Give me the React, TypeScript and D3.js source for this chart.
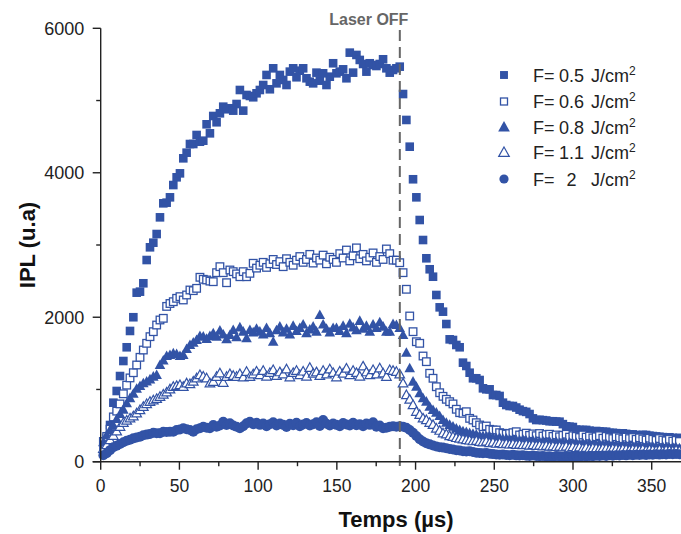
import React from 'react';
import * as d3 from 'd3';

// Measurement sampling (µs)
const timeStart = 1.7;
const timeStep = 2.115;

// IPL (u.a) for each fluence
const ipl05 = [
  220, 330, 508, 817, 979, 1186, 1394, 1584, 1810, 2000,
  2340, 2354, 2470, 2792, 2968, 3032, 3152, 3383, 3577, 3586,
  3660, 3830, 3937, 3992, 4200, 4278, 4398, 4398, 4523, 4430,
  4444, 4671, 4546, 4786, 4699, 4823, 4915, 4879, 4893, 4860,
  4952, 5146, 4860, 5077, 5063, 5045, 5100, 5146, 5215, 5354,
  5156, 5446, 5238, 5354, 5285, 5215, 5400, 5446, 5322, 5413,
  5446, 5308, 5261, 5238, 5386, 5275, 5377, 5215, 5330, 5516,
  5377, 5400, 5432, 5308, 5663, 5386, 5631, 5562, 5506, 5400,
  5516, 5492, 5478, 5506, 5571, 5446, 5386, 5423, 5446, 5469,
  5090, 4731, 4361, 3910, 3660, 3346, 3069, 2816, 2664, 2561,
  2308, 2137, 2077, 1906, 1694, 1685, 1616, 1584, 1371, 1325,
  1232, 1155, 1155, 1131, 1016, 1002, 1002, 923, 923, 910,
  817, 785, 771, 771, 750, 720, 700, 690, 660, 600,
  577, 580, 575, 570, 560, 560, 555, 554, 520, 490,
  485, 480, 445, 440, 439, 440, 430, 420, 425, 420,
  415, 415, 400, 400, 395, 380, 393, 385, 375, 378,
  370, 365, 372, 370, 360, 355, 350, 345, 340, 335,
  338, 330, 325, 330,
];
const ipl06 = [
  280, 350, 450, 620, 700, 800, 940, 1060, 1160, 1232,
  1339, 1445, 1546, 1639, 1731, 1800, 1892, 1962, 1985, 2150,
  2190, 2215, 2262, 2285, 2239, 2308, 2377, 2368, 2400, 2553,
  2525, 2516, 2500, 2492, 2617, 2700, 2617, 2478, 2654, 2631,
  2600, 2561, 2631, 2561, 2608, 2747, 2680, 2720, 2760, 2690,
  2740, 2800, 2730, 2770, 2700, 2810, 2760, 2720, 2790, 2840,
  2760, 2800, 2870, 2750, 2820, 2790, 2860, 2740, 2830, 2800,
  2760, 2880, 2820, 2930, 2780, 2850, 2960, 2810, 2870, 2780,
  2830, 2890, 2760, 2840, 2800, 2945, 2880, 2790, 2790, 2755,
  2617, 2387, 2017, 1800, 1661, 1639, 1463, 1385, 1224, 1155,
  1038, 955, 905, 864, 831, 800, 726, 679, 670, 692,
  600, 577, 540, 508, 485, 494, 448, 439, 439, 402,
  393, 383, 390, 402, 415, 370, 380, 395, 365, 385,
  360, 390, 355, 375, 380, 350, 370, 345, 365, 380,
  340, 360, 350, 335, 370, 340, 355, 330, 345, 360,
  325, 350, 335, 320, 345, 330, 315, 340, 320, 335,
  310, 330, 315, 300, 325, 310, 295, 320, 300, 290,
  310, 285, 295, 280,
];
const ipl08 = [
  270, 370, 440, 500, 590, 660, 720, 808, 880, 940,
  1010, 1048, 1085, 1110, 1140, 1177, 1200, 1339, 1400, 1463,
  1477, 1500, 1491, 1463, 1477, 1560, 1616, 1648, 1685, 1740,
  1731, 1700, 1740, 1777, 1731, 1814, 1760, 1694, 1754, 1823,
  1722, 1860, 1800, 1708, 1823, 1790, 1840, 1800, 1760, 1850,
  1780, 1661, 1820, 1870, 1790, 1840, 1760, 1880, 1810, 1850,
  1900, 1780, 1830, 1870, 1800, 2030, 1900, 1840, 1790, 1850,
  1850, 1810, 1880, 1780, 1910, 1860, 1820, 1950, 1840, 1880,
  1800, 1900, 1850, 1930, 1870, 1800, 1800, 1906, 1892, 1850,
  1754, 1509, 1293, 1108, 1038, 947, 878, 831, 761, 716,
  679, 633, 577, 540, 510, 485, 460, 439, 420, 410,
  395, 385, 375, 360, 355, 345, 350, 335, 325, 330,
  315, 320, 305, 310, 300, 295, 305, 290, 285, 295,
  280, 275, 285, 270, 280, 265, 275, 260, 270, 255,
  265, 250, 260, 245, 255, 240, 250, 240, 235, 245,
  230, 240, 225, 235, 230, 220, 230, 215, 225, 210,
  220, 215, 205, 215, 200, 210, 205, 195, 205, 200,
  190, 200, 195, 185,
];
const ipl11 = [
  180, 230, 300, 360, 420, 485, 540, 570, 600, 630,
  670, 716, 760, 800, 831, 850, 870, 900, 930, 960,
  1002, 1038, 1050, 1062, 1038, 1085, 1076, 1110, 1155, 1200,
  1180, 1155, 1085, 1108, 1177, 1224, 1094, 1177, 1214, 1190,
  1177, 1214, 1168, 1246, 1177, 1210, 1250, 1200, 1260, 1180,
  1230, 1270, 1190, 1240, 1210, 1280, 1170, 1230, 1260, 1200,
  1250, 1180, 1300, 1220, 1240, 1190, 1260, 1210, 1280, 1230,
  1170, 1250, 1220, 1290, 1200, 1260, 1230, 1180, 1320, 1240,
  1200, 1270, 1210, 1293, 1224, 1177, 1270, 1260, 1246, 1210,
  1085, 923, 860, 785, 692, 650, 600, 577, 540, 510,
  460, 430, 393, 380, 356, 345, 330, 320, 310, 300,
  295, 285, 290, 275, 270, 280, 260, 265, 250, 260,
  245, 250, 240, 245, 235, 240, 230, 235, 225, 230,
  220, 225, 215, 220, 210, 215, 205, 210, 200, 210,
  195, 205, 190, 200, 185, 195, 180, 190, 185, 175,
  185, 180, 170, 180, 175, 165, 175, 170, 160, 170,
  165, 160, 170, 155, 165, 160, 155, 165, 150, 160,
  155, 150, 160, 150,
];
const ipl2 = [
  90, 116, 160, 200, 220, 245, 270, 290, 305, 323,
  335, 345, 365, 375, 385, 402, 395, 393, 415, 410,
  415, 415, 439, 445, 462, 450, 439, 415, 450, 462,
  485, 470, 462, 508, 485, 500, 554, 508, 531, 500,
  485, 462, 490, 531, 554, 520, 540, 510, 530, 490,
  520, 545, 500, 530, 510, 480, 525, 505, 540, 490,
  515, 535, 500, 520, 545, 495, 577, 525, 500, 530,
  510, 490, 535, 515, 500, 540, 505, 520, 490, 530,
  510, 545, 485, 500, 462, 470, 485, 490, 485, 490,
  485, 470, 439, 400, 355, 310, 280, 255, 240, 225,
  210, 200, 195, 185, 175, 170, 160, 155, 145, 140,
  145, 135, 125, 120, 116, 120, 110, 105, 100, 95,
  100, 93, 90, 95, 88, 85, 90, 82, 80, 85,
  78, 75, 80, 72, 75, 70, 78, 72, 70, 75,
  68, 72, 75, 70, 78, 72, 80, 75, 82, 78,
  85, 80, 88, 83, 90, 85, 92, 88, 95, 90,
  96, 92, 98, 94, 100, 96, 102, 98, 104, 100,
  106, 102, 108, 104,
];

const fluenceLabels = ['0.5', '0.6', '0.8', '1.1', '2'];
const markerKinds = ['square', 'openSquare', 'triangle', 'openTriangle', 'circle'];
const seriesValues = [ipl05, ipl06, ipl08, ipl11, ipl2];
const xMajorTicks = [0, 50, 100, 150, 200, 250, 300, 350];
const xMinorTicks = [25, 75, 125, 175, 225, 275, 325];
const yMajorTicks = [0, 2000, 4000, 6000];
const yMinorTicks = [1000, 3000, 5000];
const laserOffTime = 190;

const W = 681;
const H = 534;
const BLUE = '#3253a6';
const FONT = '"Liberation Sans", Arial, Helvetica, sans-serif';

const x = d3.scaleLinear().domain([0, 368.6]).range([100.7, 681]);
const y = d3.scaleLinear().domain([0, 6000]).range([461.7, 28.3]);

function Marker({ kind, cx, cy, scale = 1 }: { kind: string; cx: number; cy: number; scale?: number }) {
  if (kind === 'square') {
    const s = 8.6 * scale;
    return <rect x={cx - s / 2} y={cy - s / 2} width={s} height={s} fill={BLUE} />;
  }
  if (kind === 'openSquare') {
    const s = 7.6 * scale;
    return <rect x={cx - s / 2} y={cy - s / 2} width={s} height={s} fill="#fff" stroke={BLUE} strokeWidth={1.3} />;
  }
  if (kind === 'triangle' || kind === 'openTriangle') {
    const open = kind === 'openTriangle';
    const w = (open ? 9.6 : 10.6) * scale;
    const h = (open ? 8.6 : 9.6) * scale;
    const p = d3.path();
    p.moveTo(cx, cy - h * 0.58);
    p.lineTo(cx + w / 2, cy + h * 0.42);
    p.lineTo(cx - w / 2, cy + h * 0.42);
    p.closePath();
    return open ? (
      <path d={p.toString()} fill="#fff" stroke={BLUE} strokeWidth={1.2} strokeLinejoin="miter" />
    ) : (
      <path d={p.toString()} fill={BLUE} />
    );
  }
  return <circle cx={cx} cy={cy} r={5 * scale} fill={BLUE} />;
}

export default function App() {
  const x0 = x(0);
  const y0 = y(0);
  const legendY = [75, 101.5, 127, 152.5, 179];
  return (
    <svg
      width={W}
      height={H}
      viewBox={`0 0 ${W} ${H}`}
      style={{ position: 'absolute', left: 0, top: 0, display: 'block', background: '#fff' }}
      fontFamily={FONT}
    >
      <rect x={0} y={0} width={W} height={H} fill="#fff" />
      {/* data */}
      {seriesValues.map((vals, si) => (
        <g key={si}>
          {vals.map((v, i) => (
            <Marker key={i} kind={markerKinds[si]} cx={x(timeStart + timeStep * i)} cy={y(v)} />
          ))}
        </g>
      ))}
      {/* laser off line */}
      <line
        x1={x(laserOffTime)}
        x2={x(laserOffTime)}
        y1={30}
        y2={467}
        stroke="#666"
        strokeWidth={2}
        strokeDasharray="11 6"
      />
      <text x={x(laserOffTime) - 31} y={25} textAnchor="middle" fontSize={16} fontWeight="bold" fill="#666">
        Laser OFF
      </text>
      {/* axes */}
      <line x1={x0} x2={x0} y1={y(6000)} y2={y0} stroke="#222" strokeWidth={1.4} />
      <line x1={x0 - 8} x2={W} y1={y0} y2={y0} stroke="#222" strokeWidth={1.4} />
      {yMajorTicks.map((t) => (
        <g key={'ym' + t}>
          <line x1={x0 - 8} x2={x0} y1={y(t)} y2={y(t)} stroke="#222" strokeWidth={1.4} />
          <text x={x0 - 16.5} y={y(t)} dy="0.36em" textAnchor="end" fontSize={18} fill="#222">
            {t}
          </text>
        </g>
      ))}
      {yMinorTicks.map((t) => (
        <line key={'yn' + t} x1={x0 - 4.5} x2={x0} y1={y(t)} y2={y(t)} stroke="#222" strokeWidth={1.4} />
      ))}
      {xMajorTicks.map((t) => (
        <g key={'xm' + t}>
          <line x1={x(t)} x2={x(t)} y1={y0} y2={y0 + 8} stroke="#222" strokeWidth={1.4} />
          <text x={x(t)} y={492} textAnchor="middle" fontSize={17.5} fill="#222">
            {t}
          </text>
        </g>
      ))}
      {xMinorTicks.map((t) => (
        <line key={'xn' + t} x1={x(t)} x2={x(t)} y1={y0} y2={y0 + 4.5} stroke="#222" strokeWidth={1.4} />
      ))}
      {/* axis titles */}
      <text x={396} y={527} textAnchor="middle" fontSize={22} fontWeight="bold" fill="#111">
        Temps (µs)
      </text>
      <text
        transform={`translate(35,245) rotate(-90)`}
        textAnchor="middle"
        fontSize={22}
        fontWeight="bold"
        fill="#111"
      >
        IPL (u.a)
      </text>
      {/* legend */}
      {fluenceLabels.map((lab, i) => (
        <g key={'lg' + i}>
          <Marker kind={markerKinds[i]} cx={504} cy={legendY[i]} scale={i === 2 || i === 3 ? 1.1 : 0.92} />
          <text y={legendY[i] + 6.5} fontSize={18} fill="#222">
            <tspan x={533}>F=</tspan>
            <tspan x={571.5} textAnchor="middle">{lab}</tspan>
            <tspan x={591}>J/cm</tspan>
            <tspan dy={-7} fontSize={12}>2</tspan>
          </text>
        </g>
      ))}
    </svg>
  );
}
